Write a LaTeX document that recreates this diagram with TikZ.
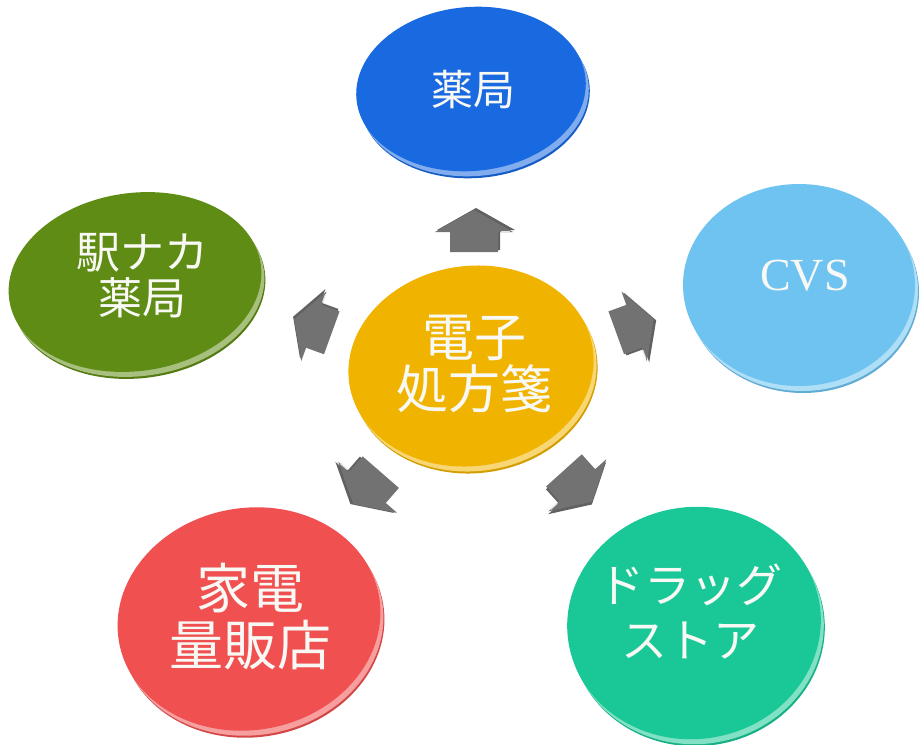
\documentclass[tikz,border=0pt]{standalone}
\usepackage{fontspec}
\newfontfamily\jp{Noto Sans CJK JP}
\newfontfamily\cvsfont{Liberation Serif}
\usetikzlibrary{shapes.geometric,calc}
\definecolor{cblue}{HTML}{1969E1}
\definecolor{ccvs}{HTML}{6EC3F0}
\definecolor{cgreen}{HTML}{5F8C14}
\definecolor{cyellow}{HTML}{F0B400}
\definecolor{cred}{HTML}{F05050}
\definecolor{cteal}{HTML}{19C896}
\definecolor{arrowgray}{HTML}{727272}
\definecolor{txtwhite}{HTML}{F8F8F4}
\tikzset{
  disk/.style={ellipse, inner sep=0pt, outer sep=0pt, draw=none},
  lbl/.style={text=txtwhite, align=center, inner sep=0pt},
  blockarrow/.pic={
    \fill[arrowgray!85!black] (-21+2,-24+2) -- (-1+2,-24+2) -- (-1+2,-39+2) -- (21+2,0+2) -- (-1+2,39+2) -- (-1+2,24+2) -- (-21+2,24+2) -- cycle;
    \fill[arrowgray] (-21,-24) -- (-1,-24) -- (-1,-39) -- (21,0) -- (-1,39) -- (-1,24) -- (-21,24) -- cycle;
    \draw[white!80!arrowgray, line width=1.2pt] (-1,27) -- (-1,36);
  }
}
% name, x, y, rx, ry, rotation, colour
\newcommand\mydisk[7]{%
  \fill[#7!88!black, rotate around={#6:(#2+4,#3+7)}] (#2+4,#3+7) ellipse [x radius=#4, y radius=#5];
  \fill[#7!55!white, rotate around={#6:(#2+3,#3+5)}] (#2+3,#3+5) ellipse [x radius=#4, y radius=#5];
  \node[disk, fill=#7, minimum width={2*#4 pt}, minimum height={2*#5 pt}, rotate=#6] (#1) at (#2,#3) {};
}
\begin{document}
\begin{tikzpicture}[x=1pt,y=-1pt]
\useasboundingbox (0,0) rectangle (923,744);
\fill[white] (0,0) rectangle (923,744);

% disks
\mydisk{blue}{471}{89}{115}{82}{5}{cblue}
\mydisk{cvs}{799}{285}{116}{101}{0}{ccvs}
\mydisk{green}{135}{282}{127}{89}{8}{cgreen}
\mydisk{red}{249}{619}{132}{111}{10}{cred}
\mydisk{teal}{694}{623}{127}{116}{8}{cteal}
\mydisk{center}{471}{366}{123}{100}{8}{cyellow}

% labels
\node[lbl, font=\jp\fontsize{42}{44}\selectfont] (tblue) at (473,90) {薬局};
\node[lbl, font=\cvsfont\fontsize{46}{48}\selectfont] (tcvs) at (805,276) {CVS};
\node[lbl, font=\jp\fontsize{44}{46}\selectfont] (tgreen) at (142,276) {駅ナカ\\薬局};
\node[lbl, font=\jp\fontsize{52}{52}\selectfont] (tcenter) at (474,364) {電子\\処方箋};
\node[lbl, font=\jp\fontsize{54}{57}\selectfont] (tred) at (250,617) {家電\\量販店};
\node[lbl, font=\jp\fontsize{46}{55}\selectfont] (tteal) at (690,612) {ドラッグ\\ストア};

% arrows
\pic[rotate=90] at (474,231) {blockarrow};
\pic[rotate=160, scale=0.95] at (313,326) {blockarrow};
\pic[rotate=20, scale=0.95] at (635,326) {blockarrow};
\pic[rotate=229] at (367,488) {blockarrow};
\pic[rotate=-48] at (578,486) {blockarrow};
\end{tikzpicture}
\end{document}
